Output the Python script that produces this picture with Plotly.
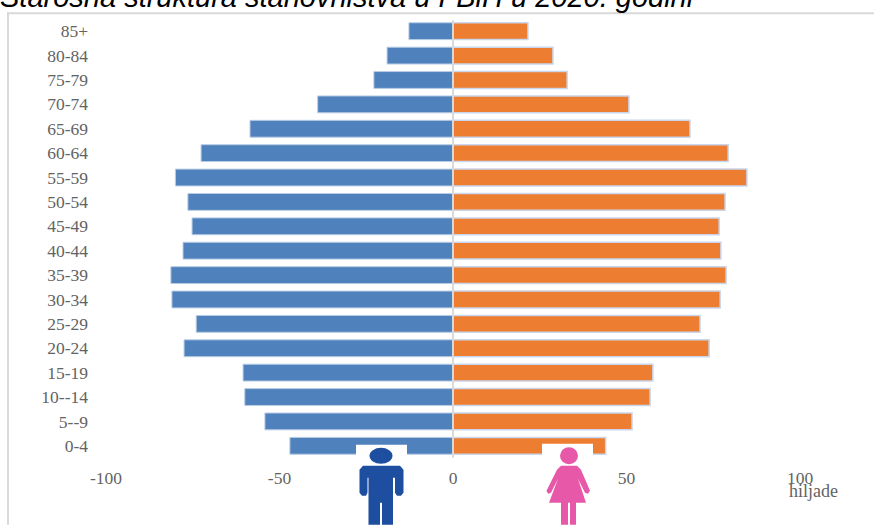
import plotly.graph_objects as go

categories = ["0-4", "5--9", "10--14", "15-19", "20-24", "25-29", "30-34", "35-39", "40-44",
              "45-49", "50-54", "55-59", "60-64", "65-69", "70-74", "75-79", "80-84", "85+"]
muskarci = [-47, -54.2, -60, -60.5, -77.5, -74, -81, -81.3, -77.8,
            -75.2, -76.4, -80, -72.6, -58.5, -39, -22.8, -19, -12.7]
zene = [44, 51.6, 56.8, 57.6, 73.8, 71.2, 77, 78.7, 77.2,
        76.7, 78.4, 84.7, 79.3, 68.3, 50.7, 32.9, 28.8, 21.6]
x_ticks = [-100, -50, 0, 50, 100]
x_tick_labels = ["-100", "-50", "0", "50", "100"]
title_text = "Starosna struktura stanovništva u FBiH u 2020. godini"
unit_text = "hiljade"

W, H = 874, 525
L, R, T, B = 106, 800, 18.8, 458.2
SERIF = "Liberation Serif"
GREY = "#636363"


def px(x):
    return (x - L) / (R - L)


def py(y):
    return 1 - (y - T) / (B - T)


def path(points):
    return "M" + " L".join(f"{px(x):.5f},{py(y):.5f}" for x, y in points) + " Z"


def rect(x0, y0, x1, y1, color):
    return dict(type="rect", xref="paper", yref="paper", x0=px(x0), x1=px(x1), y0=py(y0), y1=py(y1),
                fillcolor=color, line_width=0, layer="above")


def ellipse(x0, y0, x1, y1, color):
    return dict(type="circle", xref="paper", yref="paper", x0=px(x0), x1=px(x1), y0=py(y0), y1=py(y1),
                fillcolor=color, line_width=0, layer="above")


def poly(points, color):
    return dict(type="path", xref="paper", yref="paper", path=path(points), fillcolor=color,
                line_width=0, layer="above")


MAN = "#1d4ea0"
WOMAN = "#e858a8"
shapes = [
    # frame
    rect(7, 12, 9, 525, "#d9d9d9"),
    rect(7, 12, 874, 14, "#d9d9d9"),
    # centre axis
    dict(type="line", xref="x", yref="paper", x0=0, x1=0, y0=py(458), y1=py(20),
         line=dict(color="#d9d9d9", width=2), layer="above"),
    # man icon
    rect(356, 445, 407, 525, "#ffffff"),
    ellipse(369.5, 448, 392.5, 464, MAN),
    poly([(363, 466), (400, 466), (403.5, 470), (403.5, 493), (401, 496), (397, 496), (395, 493),
          (395, 478), (393, 478), (393, 525), (382, 525), (382, 503), (380, 503), (380, 525),
          (368.5, 525), (368.5, 478), (367.5, 478), (367.5, 493), (366, 496), (362, 496), (359.5, 493),
          (359.5, 470)], MAN),
    # woman icon
    rect(542, 444, 593, 525, "#ffffff"),
    ellipse(560, 447.5, 578, 464.5, WOMAN),
    poly([(561, 466), (577, 466), (581, 470), (590, 491), (588, 494), (585, 493), (578, 479),
          (586, 503), (576, 503), (576, 525), (570, 525), (570, 503), (568, 503), (568, 525),
          (561, 525), (561, 503), (549, 503), (558, 479), (551, 493), (548, 494), (546.5, 491),
          (557, 470)], WOMAN),
]

fig = go.Figure()
fig.add_trace(go.Bar(y=categories, x=muskarci, orientation="h", name="Muškarci",
                     marker=dict(color="#4f81bd", line=dict(color="#b8cce4", width=1))))
fig.add_trace(go.Bar(y=categories, x=zene, orientation="h", name="Žene",
                     marker=dict(color="#ed7d31", line=dict(color="#c9d6ec", width=1.5))))

fig.update_layout(
    width=W, height=H, autosize=False, showlegend=False, barmode="overlay", bargap=0.31,
    margin=dict(l=L, r=W - R, t=T, b=H - B, pad=0),
    paper_bgcolor="#ffffff", plot_bgcolor="#ffffff",
    font=dict(family=SERIF, color=GREY, size=17),
    xaxis=dict(range=[-100, 100], tickvals=x_ticks, ticktext=x_tick_labels, showgrid=False, zeroline=False,
               showline=False, ticks="", ticklabelstandoff=7, tickfont=dict(family=SERIF, size=17.5, color=GREY)),
    yaxis=dict(type="category", categoryorder="array", categoryarray=categories, range=[-0.5, 17.5],
               showgrid=False, zeroline=False, showline=False, ticks="", ticklabelstandoff=17,
               tickfont=dict(family=SERIF, size=17.5, color=GREY)),
    shapes=shapes,
    annotations=[
        dict(text=title_text, xref="paper", yref="paper", x=px(-2), y=py(15), xanchor="left", yanchor="bottom",
             showarrow=False, font=dict(family="Liberation Sans", size=29, color="#000000", style="italic")),
        dict(text=unit_text, xref="paper", yref="paper", x=px(814), y=py(491), xanchor="center", yanchor="middle",
             showarrow=False, font=dict(family=SERIF, size=18, color=GREY)),
    ],
)
fig.write_html("out.html", config=dict(displayModeBar=False),
               post_script="document.body.style.margin='0';document.documentElement.style.overflow='hidden';")
